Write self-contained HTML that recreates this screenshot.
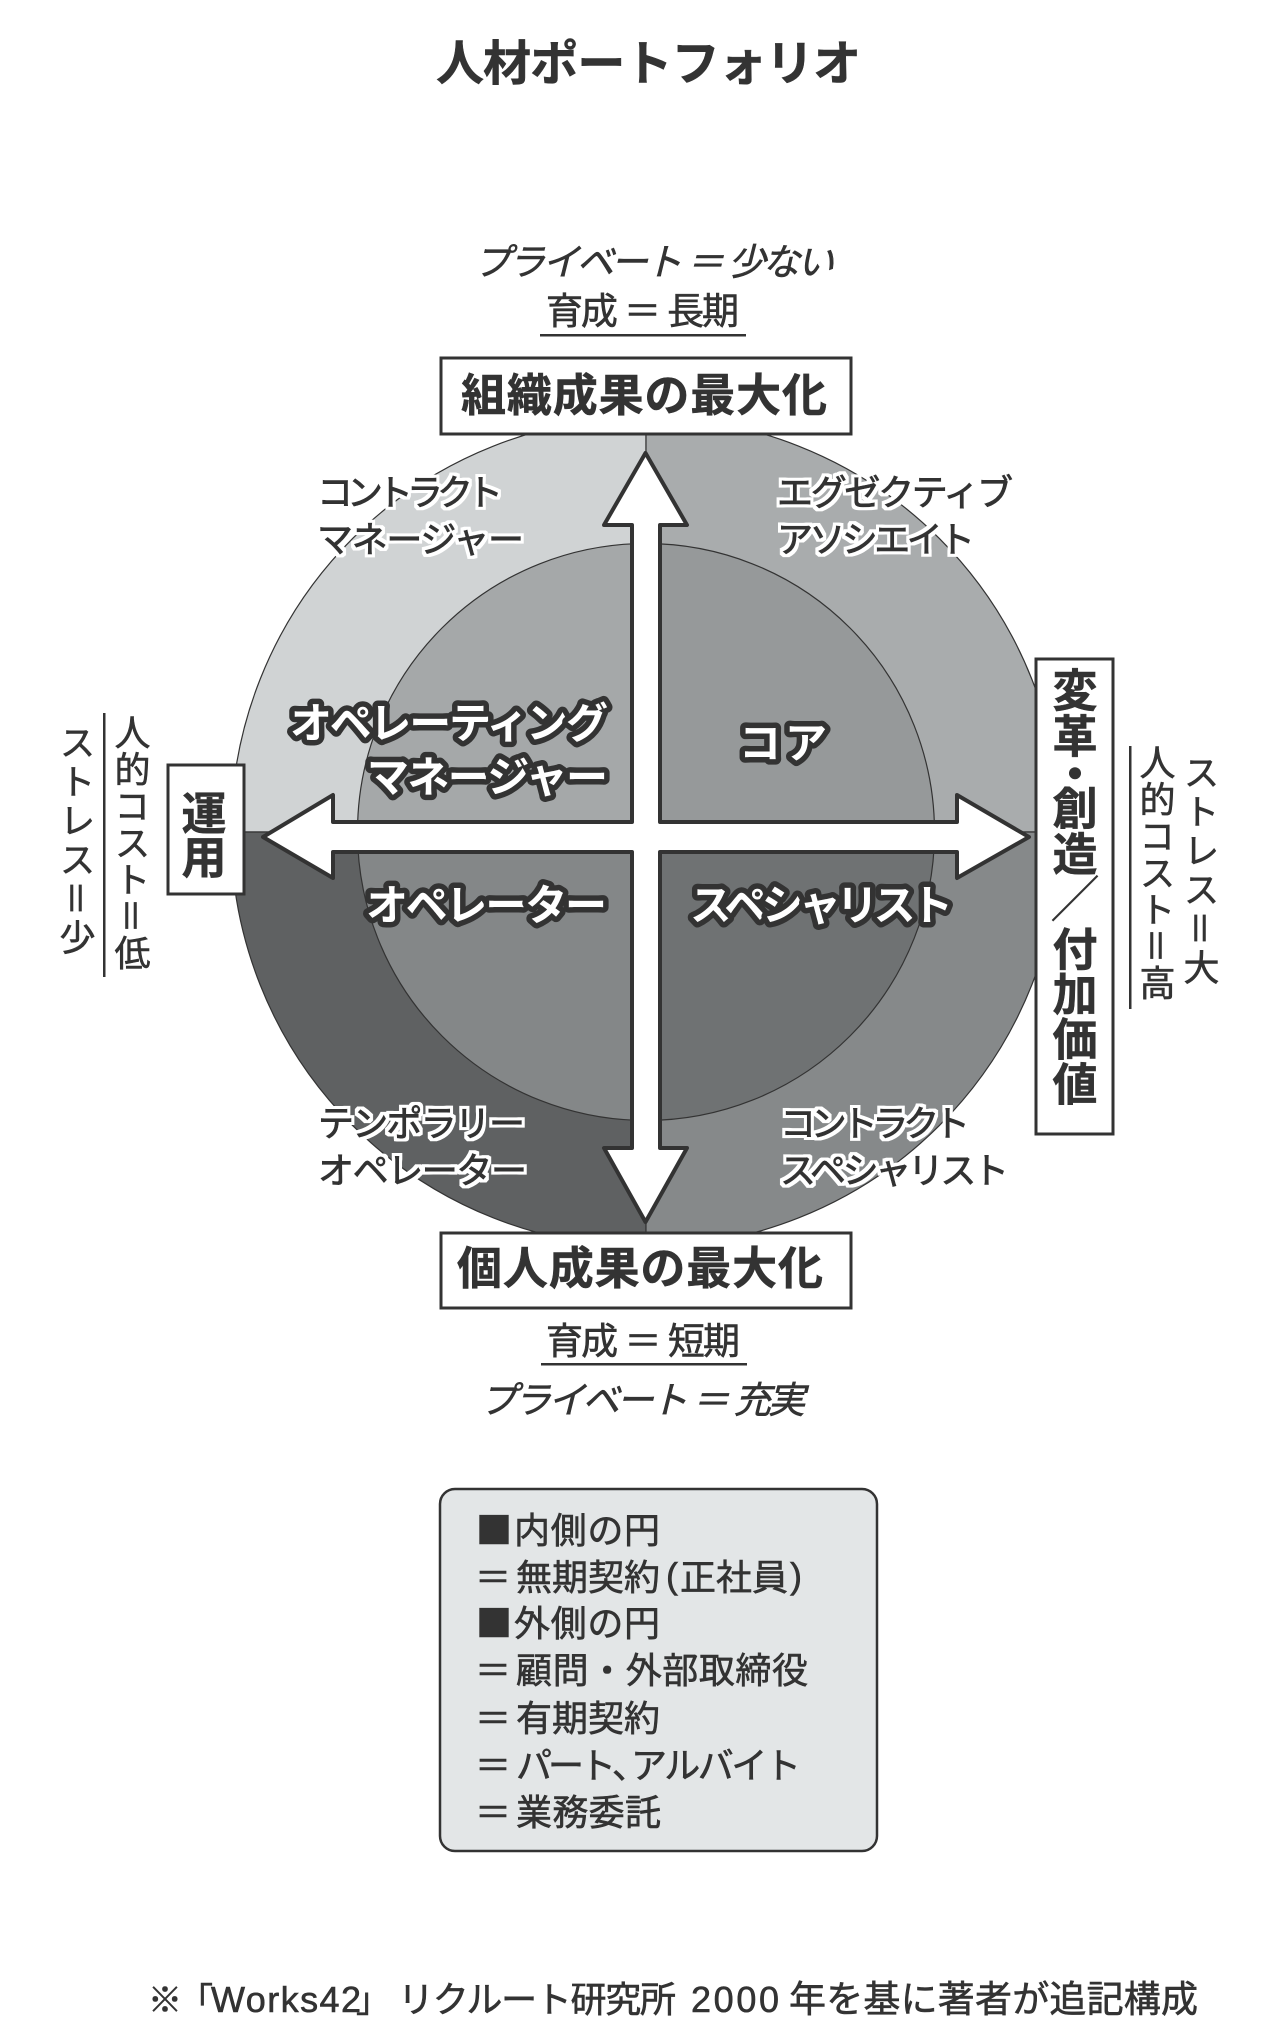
<!DOCTYPE html>
<html lang="ja"><head><meta charset="utf-8"><title>人材ポートフォリオ</title>
<style>
html,body{margin:0;padding:0;background:#fff;}
svg{display:block;}
text{font-family:"Liberation Sans","Noto Sans CJK JP",sans-serif;fill:#333;stroke:#333;stroke-width:.6px;}
.j{font-family:"Noto Sans CJK JP",sans-serif;}
.b{font-weight:700;stroke-width:.5px;}
.i{font-style:italic;}
.o{font-size:36px;filter:url(#halo);stroke-width:.9px;}
.n{font-weight:700;font-size:42px;fill:#fff;stroke:#333;stroke-width:11px;paint-order:stroke;stroke-linejoin:round;}
.v{writing-mode:vertical-rl;font-size:36px;}
.vb{writing-mode:vertical-rl;font-size:45px;font-weight:700;stroke-width:.5px;}
.l{font-size:36px;}
</style></head><body>
<svg width="1280" height="2044" viewBox="0 0 1280 2044" xmlns="http://www.w3.org/2000/svg">
<defs>
<filter id="halo" x="-10%" y="-30%" width="120%" height="160%">
<feMorphology in="SourceAlpha" operator="dilate" radius="3.2" result="d"/>
<feFlood flood-color="#fff"/>
<feComposite in2="d" operator="in" result="w"/>
<feMerge><feMergeNode in="w"/><feMergeNode in="SourceGraphic"/></feMerge>
</filter>
</defs>
<rect width="1280" height="2044" fill="#fff"/>
<text class="b" x="436" y="80" font-size="48" textLength="425">人材ポートフォリオ</text>

<text class="i" x="474" y="275" font-size="37" textLength="360">プライベート ＝ 少ない</text>
<text x="546" y="324" font-size="37" textLength="193">育成 ＝ 長期</text>
<rect x="540" y="334" width="206" height="2.5" fill="#333"/>

<!-- outer circle -->
<g stroke="#333" stroke-width="1.2">
<path d="M646 832V417A415 415 0 0 0 231 832Z" fill="#d0d3d4"/>
<path d="M646 832V417A415 415 0 0 1 1061 832Z" fill="#a9acad"/>
<path d="M646 832V1247A415 415 0 0 1 231 832Z" fill="#5f6162"/>
<path d="M646 832V1247A415 415 0 0 0 1061 832Z" fill="#86898a"/>
<path d="M646 832V543.500A288.500 288.500 0 0 0 357.500 832Z" fill="#a5a8a9"/>
<path d="M646 832V543.500A288.500 288.500 0 0 1 934.500 832Z" fill="#96999a"/>
<path d="M646 832V1120.500A288.500 288.500 0 0 1 357.500 832Z" fill="#848788"/>
<path d="M646 832V1120.500A288.500 288.500 0 0 0 934.500 832Z" fill="#6f7273"/>
</g>
<!-- cross arrows -->
<polygon points="645.500,453 687,525 660,525 660,822 957,822 957,795 1029,837 957,878 957,852 660,852 660,1148 687,1148 645.500,1222 604,1148 632,1148 632,852 333,852 333,878 263,837 333,795 333,822 632,822 632,525 604,525" fill="#fff" stroke="#333" stroke-width="4" stroke-linejoin="round"/>

<!-- boxes -->
<g fill="#fff" stroke="#333" stroke-width="3">
<rect x="441" y="358" width="410" height="76"/>
<rect x="441" y="1233" width="410" height="75"/>
<rect x="168" y="765" width="76" height="129"/>
<rect x="1036" y="659" width="77" height="475"/>
</g>
<text class="b" x="461" y="411" font-size="45" textLength="366">組織成果の最大化</text>
<text class="b" x="457" y="1284" font-size="45" textLength="366">個人成果の最大化</text>

<!-- outer labels -->
<text class="o" x="317" y="505" textLength="186">コントラクト</text>
<text class="o" x="317" y="552" textLength="207">マネージャー</text>
<text class="o" x="777" y="505" textLength="236">エグゼクティブ</text>
<text class="o" x="777" y="552" textLength="198">アソシエイト</text>
<text class="o" x="318" y="1136" textLength="207">テンポラリー</text>
<text class="o" x="318" y="1183" textLength="209">オペレーター</text>
<text class="o" x="780" y="1136" textLength="190">コントラクト</text>
<text class="o" x="780" y="1183" textLength="229">スペシャリスト</text>

<!-- inner labels -->
<text class="n" x="290" y="738" textLength="318">オペレーティング</text>
<text class="n" x="367" y="792" textLength="241">マネージャー</text>
<text class="n" x="739" y="758" textLength="88">コア</text>
<text class="n" x="366" y="920" textLength="241">オペレーター</text>
<text class="n" x="690" y="920" textLength="263">スペシャリスト</text>

<text x="546" y="1354" font-size="37" textLength="194">育成 ＝ 短期</text>
<rect x="541" y="1363" width="206" height="2.5" fill="#333"/>
<text class="i" x="480" y="1413" font-size="37" textLength="325">プライベート ＝ 充実</text>

<!-- left -->
<text class="vb" x="200" y="790" style="letter-spacing:-1px">運用</text>
<text class="v" x="130" y="714" style="letter-spacing:.7px">人的コスト＝低</text>
<text class="v" x="75" y="724" style="letter-spacing:3px">ストレス＝少</text>
<rect x="103" y="713" width="2.500" height="264" fill="#333"/>

<!-- right -->
<text class="vb" x="1071" y="667" style="letter-spacing:1px">変革</text>
<text class="vb" x="1071" y="751">・</text>
<text class="vb" x="1071" y="785" style="letter-spacing:1px">創造</text>
<text x="1075" y="917" font-size="50" text-anchor="middle" style="stroke-width:0">／</text>
<text class="vb" x="1071" y="926">付加価値</text>
<text class="v" x="1155" y="744" style="letter-spacing:.7px">人的コスト＝高</text>
<text class="v" x="1199" y="754" style="letter-spacing:3px">ストレス＝大</text>
<rect x="1129" y="746" width="2.500" height="263" fill="#333"/>

<!-- legend -->
<rect x="440" y="1489" width="437" height="362" rx="15" ry="15" fill="#e3e6e7" stroke="#333" stroke-width="2.500"/>
<text class="l j" x="476" y="1543">■</text>
<text class="l" x="514" y="1543" textLength="146">内側の円</text>
<text class="l" x="475" y="1590">＝</text>
<text class="l" x="516" y="1590" textLength="144">無期契約</text>
<text class="l" x="666" y="1588">(</text>
<text class="l" x="680" y="1590" textLength="108">正社員</text>
<text class="l" x="790" y="1588">)</text>
<text class="l j" x="476" y="1636">■</text>
<text class="l" x="514" y="1636" textLength="146">外側の円</text>
<text class="l" x="475" y="1683">＝</text>
<text class="l" x="516" y="1683" textLength="292">顧問・外部取締役</text>
<text class="l" x="475" y="1731">＝</text>
<text class="l" x="516" y="1731" textLength="144">有期契約</text>
<text class="l" x="475" y="1778">＝</text>
<text class="l" x="516" y="1778" textLength="100">パート</text>
<text class="l" x="612" y="1778">、</text>
<text class="l" x="631" y="1778" textLength="170">アルバイト</text>
<text class="l" x="475" y="1825">＝</text>
<text class="l" x="516" y="1825" textLength="145">業務委託</text>

<!-- footer -->
<text class="j" x="148" y="2012" font-size="34">※</text>
<text class="j" x="179" y="2012" font-size="34">「</text>
<text x="211" y="2012" font-size="36" textLength="150">Works42</text>
<text class="j" x="356" y="2012" font-size="34">」</text>
<text x="398" y="2012" font-size="36" textLength="278">リクルート研究所</text>
<text x="691" y="2012" font-size="36" textLength="88">2000</text>
<text x="789" y="2012" font-size="37" textLength="409">年を基に著者が追記構成</text>
</svg>
</body></html>
